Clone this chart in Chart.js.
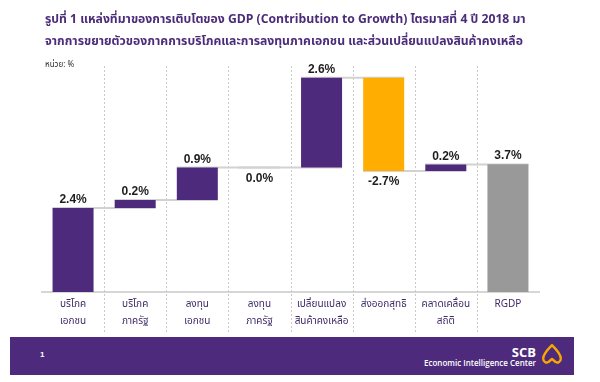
<!DOCTYPE html>
<html>
<head>
<meta charset="utf-8">
<script src="https://cdn.jsdelivr.net/npm/chart.js@4"></script>
<style>
  html, body { margin: 0; padding: 0; background: #fff; }
  #wrap { position: relative; width: 600px; height: 382px; overflow: hidden;
          font-family: Tahoma, "Noto Sans Thai", "Noto Sans", "DejaVu Sans", sans-serif; }
  #chart { position: absolute; left: 0; top: 0; }
  .title { position: absolute; left: 45px; color: #4b2c7a; font-weight: bold; font-size: 12.2px; white-space: nowrap; }
  #unit { position: absolute; left: 45px; top: 59px; font-size: 8px; color: #333; }
  #footer { position: absolute; left: 10px; top: 337px; width: 564px; height: 38px; background: #4d2a7c; }
  #pageNo { position: absolute; left: 30px; top: 13px; color: #fff; font: bold 8px "Liberation Sans", Arial, sans-serif; }
  #scb { position: absolute; right: 38px; top: 6px; color: #fff; font: bold 13px "Open Sans", "Liberation Sans", sans-serif; }
  #eic { position: absolute; right: 38px; top: 20px; color: #fff; font: 600 8px "Open Sans", "Liberation Sans", sans-serif; white-space: nowrap; }
  #logo { position: absolute; left: 531px; top: 6px; }
</style>
</head>
<body>
<div id="wrap">
  <canvas id="chart" width="600" height="382"></canvas>
  <div class="title" style="top:10px">รูปที่ 1 แหล่งที่มาของการเติบโตของ GDP (Contribution to Growth) ไตรมาสที่ 4 ปี 2018 มา</div>
  <div class="title" style="top:32px">จากการขยายตัวของภาคการบริโภคและการลงทุนภาคเอกชน และส่วนเปลี่ยนแปลงสินค้าคงเหลือ</div>
  <div id="unit">หน่วย: %</div>
  <div id="footer">
    <div id="pageNo">1</div>
    <div id="scb">SCB</div>
    <div id="eic">Economic Intelligence Center</div>
    <svg id="logo" width="22" height="22" viewBox="0 0 20 20">
      <path d="M10 2 C6 6 2 10 2 14 C2 17.5 5 18.5 7 17 L10 14.5 L13 17 C15 18.5 18 17.5 18 14 C18 10 14 6 10 2 Z"
            fill="none" stroke="#f6a800" stroke-width="2.2" stroke-linejoin="round"/>
    </svg>
  </div>
</div>
<script>
  // categories on the x axis (two-line labels)
  const categories = [
    ['บริโภค', 'เอกชน'],
    ['บริโภค', 'ภาครัฐ'],
    ['ลงทุน', 'เอกชน'],
    ['ลงทุน', 'ภาครัฐ'],
    ['เปลี่ยนแปลง', 'สินค้าคงเหลือ'],
    'ส่งออกสุทธิ',
    ['คลาดเคลื่อน', 'สถิติ'],
    'RGDP'
  ];

  // contribution of each component (percentage points)
  const contributions = [2.43, 0.23, 0.94, 0.0, 2.6, -2.7, 0.19];
  const totalGrowth = 3.7;

  const PURPLE = '#4d2a7c';
  const YELLOW = '#ffad00';
  const GREY   = '#999999';

  // build floating bars [start, end] for the waterfall
  const floating = [];
  let running = 0;
  for (const v of contributions) {
    floating.push([running, running + v]);
    running += v;
  }
  floating.push([0, totalGrowth]);
  const shownValues = contributions.concat([totalGrowth]);

  const barColors = shownValues.map((v, i) =>
    i === shownValues.length - 1 ? GREY : (v < 0 ? YELLOW : PURPLE));

  // dotted separators between categories, running down through the labels
  const separators = {
    id: 'separators',
    beforeDatasetsDraw(chart) {
      const x = chart.scales.x;
      const ctx = chart.ctx;
      ctx.save();
      ctx.strokeStyle = '#c9c9c9';
      ctx.lineWidth = 1;
      ctx.setLineDash([2, 2]);
      for (let i = 0; i < categories.length - 1; i++) {
        const px = Math.round((x.getPixelForValue(i) + x.getPixelForValue(i + 1)) / 2) + 0.5;
        ctx.beginPath();
        ctx.moveTo(px, chart.chartArea.top);
        ctx.lineTo(px, chart.chartArea.bottom + 40);
        ctx.stroke();
      }
      ctx.restore();
    }
  };

  // grey connectors from one bar to the next at the running total
  const connectors = {
    id: 'connectors',
    beforeDatasetsDraw(chart) {
      const meta = chart.getDatasetMeta(0);
      const y = chart.scales.y;
      const ctx = chart.ctx;
      ctx.save();
      ctx.strokeStyle = '#d2d2d2';
      ctx.lineWidth = 2;
      for (let i = 0; i < floating.length - 1; i++) {
        const a = meta.data[i], b = meta.data[i + 1];
        const py = y.getPixelForValue(floating[i][1]);
        ctx.beginPath();
        ctx.moveTo(a.x - a.width / 2, py);
        ctx.lineTo(b.x + b.width / 2, py);
        ctx.stroke();
      }
      ctx.restore();
    }
  };

  // value labels above (or below for negatives / zero)
  const valueLabels = {
    id: 'valueLabels',
    afterDatasetsDraw(chart) {
      const meta = chart.getDatasetMeta(0);
      const y = chart.scales.y;
      const ctx = chart.ctx;
      ctx.save();
      ctx.fillStyle = '#1e1e1e';
      ctx.font = 'bold 12px "Liberation Sans", Arial, sans-serif';
      ctx.textAlign = 'center';
      ctx.textBaseline = 'middle';
      shownValues.forEach((v, i) => {
        const bar = meta.data[i];
        const [s, e] = floating[i];
        const text = v.toFixed(1) + '%';
        if (v > 0) {
          ctx.fillText(text, bar.x, y.getPixelForValue(Math.max(s, e)) - 8);
        } else {
          ctx.fillText(text, bar.x, y.getPixelForValue(Math.min(s, e)) + 11);
        }
      });
      ctx.restore();
    }
  };

  new Chart(document.getElementById('chart'), {
    type: 'bar',
    data: {
      labels: categories,
      datasets: [{
        data: floating,
        backgroundColor: barColors,
        borderWidth: 0,
        borderSkipped: false,
        barPercentage: 0.66,
        categoryPercentage: 1
      }]
    },
    options: {
      responsive: false,
      animation: false,
      layout: { padding: { left: 42, right: 61, top: 66, bottom: 47 } },
      plugins: { legend: { display: false }, tooltip: { enabled: false } },
      scales: {
        x: {
          grid: { display: false, drawTicks: false },
          border: { display: true, color: '#d6d6d6', width: 2 },
          ticks: {
            padding: 5,
            color: '#3f2a66',
            font: { size: 10, family: 'Tahoma, "Noto Sans Thai", "Noto Sans", sans-serif', lineHeight: 1.65 },
            maxRotation: 0,
            autoSkip: false
          }
        },
        y: { display: false, min: 0, max: 6.54 }
      }
    },
    plugins: [separators, connectors, valueLabels]
  });
</script>
</body>
</html>
